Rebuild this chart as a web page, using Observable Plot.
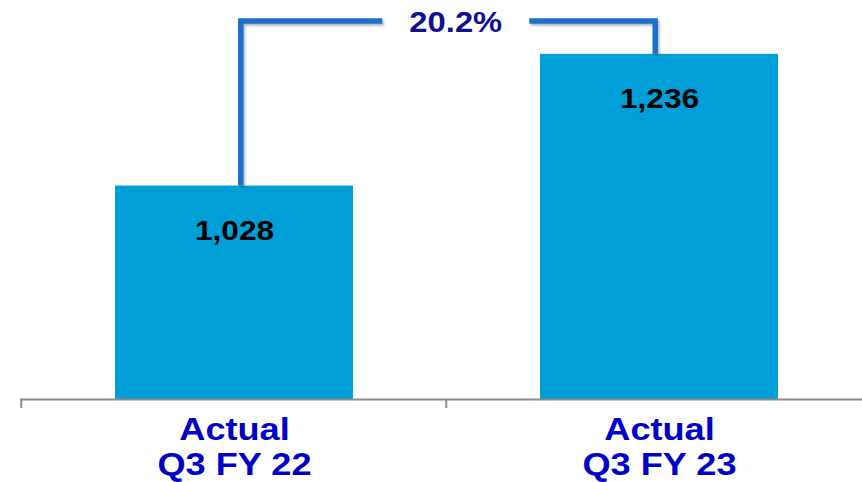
<!DOCTYPE html>
<html>
<head>
<meta charset="utf-8">
<script src="https://cdn.jsdelivr.net/npm/d3@7"></script>
<script src="https://cdn.jsdelivr.net/npm/@observablehq/plot@0.6"></script>
<style>
  html, body { margin: 0; padding: 0; background: #ffffff; }
  #chart svg { display: block; }
</style>
</head>
<body>
<div id="chart"></div>
<script>
// Quarterly actuals, year over year
const periods = ["Q3 FY 22", "Q3 FY 23"];
const actuals = [1028, 1236];
const valueLabels = ["1,028", "1,236"];
const periodLabels = ["Actual\nQ3 FY 22", "Actual\nQ3 FY 23"];
const growthLabel = "20.2%";

// value axis window (the axis is not drawn; bars start at its floor)
const axisFloor = 691;
const axisCeiling = 1321;
const bracketLevel = 1288;

const PAD_INNER = 0.441;
const PAD_OUTER = 0.2207;

const rows = periods.map((p, i) => ({
  period: p,
  value: actuals[i],
  label: valueLabels[i],
  axisLabel: periodLabels[i]
}));

const BAR = "#009fd8";
const BRACKET = "#1b6fcb";
const AXIS = "#8c8c8c";
const FONT = "'Liberation Sans', Arial, Helvetica, sans-serif";
const TEXT_STRETCH = 1.13; // wide-set lettering

// category boundary ticks under the baseline
function boundaryTicks(index, scales) {
  const {x, y} = scales;
  const step = x(periods[1]) - x(periods[0]);
  const gap = step * PAD_INNER;
  const y0 = y(axisFloor);
  const g = d3.create("svg:g");
  periods.forEach(p => {
    const bx = x(p) - gap / 2;
    g.append("line")
      .attr("x1", bx).attr("x2", bx)
      .attr("y1", y0).attr("y2", y0 + 9)
      .attr("stroke", AXIS).attr("stroke-width", 2);
  });
  return g.node();
}

// growth bracket from the first bar to the second, with the label in the gap
function growthBracket(index, scales) {
  const {x, y} = scales;
  const step = x(periods[1]) - x(periods[0]);
  const bw = step * (1 - PAD_INNER);
  const c0 = x(periods[0]) + bw / 2 + 7;
  const c1 = x(periods[1]) + bw / 2 - 3.5;
  const mid = (x(periods[0]) + x(periods[1])) / 2 + bw / 2 + 9.5;
  const yTop = y(bracketLevel);
  const halfGap = 73.5;
  const g = d3.create("svg:g");
  const defs = g.append("defs");
  const f = defs.append("filter").attr("id", "bracket-shadow")
    .attr("x", "-20%").attr("y", "-20%").attr("width", "140%").attr("height", "140%");
  f.append("feDropShadow").attr("dx", 1.5).attr("dy", 2).attr("stdDeviation", 1.2)
    .attr("flood-color", "#000").attr("flood-opacity", 0.3);
  const line = d3.line();
  g.append("path")
    .attr("d", line([[c0, y(actuals[0])], [c0, yTop], [mid - halfGap, yTop]]))
    .attr("fill", "none").attr("stroke", BRACKET).attr("stroke-width", 5.5)
    .attr("stroke-linejoin", "miter").attr("filter", "url(#bracket-shadow)");
  g.append("path")
    .attr("d", line([[mid + halfGap, yTop], [c1, yTop], [c1, y(actuals[1])]]))
    .attr("fill", "none").attr("stroke", BRACKET).attr("stroke-width", 5.5)
    .attr("stroke-linejoin", "miter").attr("filter", "url(#bracket-shadow)");
  g.append("text")
    .attr("transform", `translate(${mid},${yTop + 1})`)
    .attr("text-anchor", "middle").attr("dominant-baseline", "central")
    .attr("font-family", FONT).attr("font-weight", "bold").attr("font-size", 29)
    .attr("fill", "#0f0f96")
    .text(growthLabel);
  return g.node();
}

const chart = Plot.plot({
  width: 862,
  height: 482,
  marginLeft: 20,
  marginRight: 0,
  marginTop: 0,
  marginBottom: 83,
  style: { fontFamily: FONT, background: "#ffffff", overflow: "visible" },
  x: {
    type: "band",
    domain: periods,
    range: [20, 872],
    paddingInner: PAD_INNER,
    paddingOuter: PAD_OUTER,
    axis: null
  },
  y: { domain: [axisFloor, axisCeiling], range: [399, 0], axis: null },
  marks: [
    Plot.barY(rows, { x: "period", y1: () => axisFloor, y2: "value", fill: BAR }),
    Plot.ruleY([axisFloor], { stroke: AXIS, strokeWidth: 2 }),
    boundaryTicks,
    growthBracket,
    Plot.text(rows, {
      x: "period", y: "value", text: "label", dy: 45,
      fontSize: 28, fontWeight: "bold", fill: "#000000"
    }),
    Plot.text(rows, {
      x: "period", y: () => axisFloor, text: "axisLabel", dy: 47,
      lineAnchor: "middle", lineHeight: 1.1,
      fontSize: 32, fontWeight: "bold", fill: "#0000c8"
    })
  ]
});

// widen the lettering horizontally around each label's anchor point
d3.select(chart).selectAll("text").each(function () {
  const t = this.getAttribute("transform");
  if (t) this.setAttribute("transform", `${t} scale(${TEXT_STRETCH},1)`);
});

document.getElementById("chart").appendChild(chart);
</script>
</body>
</html>
